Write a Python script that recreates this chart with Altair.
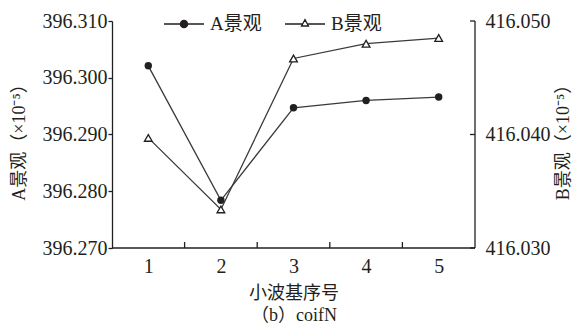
import altair as alt
import pandas as pd

categories = [1, 2, 3, 4, 5]
a_values = [396.3021, 396.2784, 396.2947, 396.2960, 396.2966]
b_values = [416.0397, 416.0334, 416.0467, 416.0480, 416.0485]
series_names = ["A景观", "B景观"]
a_ticks = [396.270, 396.280, 396.290, 396.300, 396.310]
b_ticks = [416.030, 416.040, 416.050]
x_tick_marks = [1.5, 2.5, 3.5, 4.5]   # boundaries between wavelet indices

FONT = "'Liberation Serif', 'Noto Sans CJK SC', serif"
INK = "#231f20"
LINE = "#3a3a3a"
W, H = 363, 227
FS = 20

dfA = pd.DataFrame({"x": categories, "v": a_values, "s": series_names[0]})
dfB = pd.DataFrame({"x": categories, "v": b_values, "s": series_names[1]})
dfL = pd.DataFrame({"s": series_names})
dfXT = pd.DataFrame({"x": x_tick_marks})
dfBT = pd.DataFrame({"v": b_ticks})

x_axis = alt.Axis(
    title=["小波基序号", "（b）coifN"], values=categories, format="d", domain=False,
    ticks=False, tickSize=0, labelAngle=0, labelFont=FONT, labelFontSize=FS, labelColor=INK,
    labelPadding=8, grid=False, titleFont=FONT, titleFontSize=18, titleFontWeight="normal",
    titleColor=INK, titleBaseline="top", titleY=36, titleLineHeight=22,
)
x_scale = alt.Scale(domain=[0.5, 5.5], nice=False, zero=False)
x_enc = alt.X("x:Q", scale=x_scale, axis=x_axis)

yA_scale = alt.Scale(domain=[396.270, 396.310], nice=False, zero=False)
yA_axis = alt.Axis(orient="left", values=a_ticks, format=".3f", tickSize=4, tickColor=INK,
                   tickWidth=1.3, domainColor=INK, domainWidth=1.3, labelFont=FONT,
                   labelFontSize=FS, labelColor=INK, labelPadding=1, grid=False,
                   title="A景观（×10⁻⁵）", titleFont=FONT, titleFontSize=18,
                   titleFontWeight="normal", titleColor=INK, titleAngle=270,
                   titleX=-93, titleY=H / 2 + 3, titleAlign="center", titleBaseline="middle")
yA = alt.Y("v:Q", scale=yA_scale, axis=yA_axis)

yB_scale = alt.Scale(domain=[416.030, 416.050], nice=False, zero=False)
yB_axis = alt.Axis(orient="right", values=b_ticks, format=".3f", domain=False,
                   ticks=False, tickSize=0, labelFont=FONT,
                   labelFontSize=FS, labelColor=INK, labelPadding=10, grid=False,
                   title="B景观（×10⁻⁵）", titleFont=FONT, titleFontSize=18,
                   titleFontWeight="normal", titleColor=INK, titleAngle=270,
                   titleX=88, titleY=H / 2 + 3, titleAlign="center", titleBaseline="middle")
yB = alt.Y("v:Q", scale=yB_scale, axis=yB_axis)

baseA = alt.Chart(dfA).encode(x=x_enc, y=yA)
x_ticks_layer = alt.Chart(dfXT).mark_rule(color=INK, strokeWidth=1.3).encode(
    x=x_enc, y=alt.value(H - 6), y2=alt.value(H))
layerA = alt.layer(
    baseA.mark_line(color=LINE, strokeWidth=1.3),
    baseA.mark_point(shape="circle", filled=True, size=55, color=INK, opacity=1),
    x_ticks_layer,
)
baseB = alt.Chart(dfB).encode(x=x_enc, y=yB)
b_ticks_layer = alt.Chart(dfBT).mark_rule(color=INK, strokeWidth=1.3).encode(
    y=yB, x=alt.value(W - 5), x2=alt.value(W))
layerB = alt.layer(
    baseB.mark_line(color=LINE, strokeWidth=1.3),
    baseB.mark_point(shape="triangle-up", filled=True, size=60, fill="white", stroke=INK,
                     strokeWidth=1.3, opacity=1),
    b_ticks_layer,
)


def ring(r):
    return f"M{r},0A{r},{r},0,1,1,{-r},0A{r},{r},0,1,1,{r},0Z"


pathA = "M-1,0L1,0" + "".join(ring(r) for r in [0.18, 0.14, 0.1, 0.06, 0.025])
pathB = "M-1,0L-0.12,0M0.12,0L1,0M0,-0.22L0.175,0.1L-0.175,0.1Z"

leg = alt.Legend(title=None, orient="none", legendX=51, legendY=-18, direction="horizontal",
                 symbolSize=1600, symbolStrokeWidth=1.3, symbolStrokeColor=INK,
                 symbolFillColor="transparent", symbolOpacity=1,
                 labelFont=FONT, labelFontSize=19, labelColor=INK, labelOffset=5,
                 columnPadding=20, padding=0)
legend_layer = alt.Chart(dfL).transform_filter("false").mark_point(
    filled=False, strokeWidth=1.3, opacity=1, color=INK
).encode(
    shape=alt.Shape("s:N", scale=alt.Scale(domain=series_names, range=[pathA, pathB]), legend=leg),
)

frame_data = pd.DataFrame({"k": [0]})
bottom_rule = alt.Chart(frame_data).mark_rule(color=INK, strokeWidth=1.3).encode(
    x=alt.value(0), x2=alt.value(W), y=alt.value(H))
right_rule = alt.Chart(frame_data).mark_rule(color=INK, strokeWidth=1.3).encode(
    x=alt.value(W), y=alt.value(0), y2=alt.value(H))

chart = alt.layer(layerA, layerB, legend_layer, bottom_rule, right_rule).resolve_scale(
    y="independent"
).properties(
    width=W, height=H, autosize="none",
    padding={"left": 104, "top": 13, "right": 98, "bottom": 76},
    background="white",
).configure_view(stroke=None)

chart.save("out.html", embed_options={"renderer": "svg", "actions": False})
